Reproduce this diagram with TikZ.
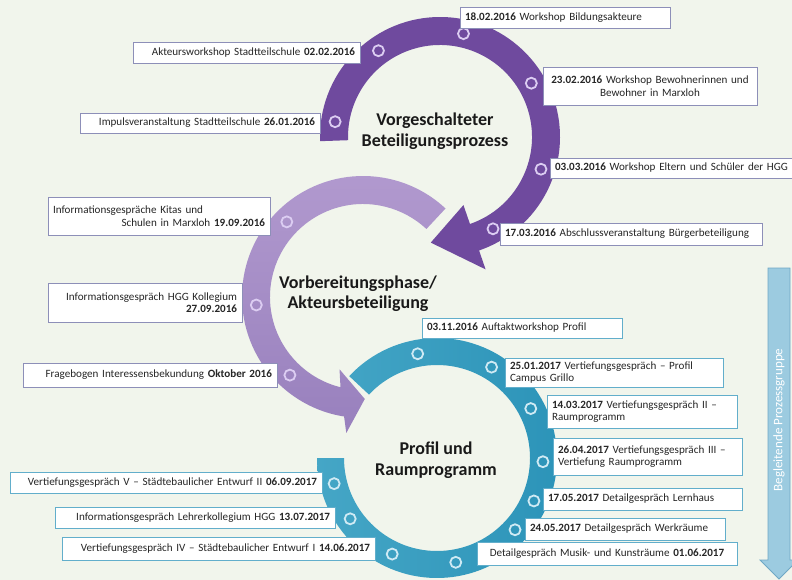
\documentclass[tikz,border=0pt]{standalone}
\usepackage{fontspec}
\setmainfont{Carlito}
\usetikzlibrary{shadows}

\definecolor{bg}{HTML}{F1F5EC}
\definecolor{violetdark}{HTML}{6F4A9E}
\definecolor{violettop}{HTML}{B29ACF}
\definecolor{violetbottom}{HTML}{9880BD}
\definecolor{tealleft}{HTML}{45A6C6}
\definecolor{tealright}{HTML}{2B93B8}
\definecolor{markviolet}{HTML}{DCCDF2}
\definecolor{markteal}{HTML}{CFEAF4}
\definecolor{boxviolet}{HTML}{8D8FB8}
\definecolor{boxteal}{HTML}{62AECB}
\definecolor{textgray}{HTML}{262626}
\definecolor{sidefill}{HTML}{9CCBE0}
\definecolor{sideline}{HTML}{6FA8C5}

\tikzset{
  evbox/.style={draw=#1, fill=white, line width=0.9pt, text=textgray,
    font=\fontsize{11.1}{12.5}\selectfont, inner xsep=5pt, inner ysep=1pt,
    drop shadow={opacity=0.18, shadow xshift=1.2pt, shadow yshift=-1.2pt}},
  phase/.style={font=\bfseries\fontsize{18}{20.5}\selectfont, text=black!90, align=center},
  mk/.style={circle, draw=#1, line width=1.8pt, minimum size=11pt, inner sep=0pt},
}

\begin{document}
\begin{tikzpicture}[x=1pt, y=-1pt]
\useasboundingbox (0,0) rectangle (792,580);
\fill[bg] (0,0) rectangle (792,580);

% third phase: teal ring
\shade[left color=tealleft, right color=tealright]
  ([shift={(437,458)}]-137:120) arc[start angle=-137, end angle=180, radius=120]
  -- ([shift={(437,458)}]180:93) arc[start angle=180, end angle=-137, radius=93] -- cycle;

% second phase: light violet arrow, counter-clockwise
\shade[top color=violettop, bottom color=violetbottom]
  ([shift={(363,297)}]-47:121) arc[start angle=-47, end angle=-261, radius=121]
  -- ([shift={(363,297)}]-263:137) -- ([shift={(363,297)}]-271:102)
  -- ([shift={(363,297)}]-252:76) -- ([shift={(363,297)}]-256:93)
  arc[start angle=-256, end angle=-47, radius=93] -- cycle;

% first phase: dark violet arrow, clockwise
\fill[violetdark]
  ([shift={(440,137)}]178:120) arc[start angle=178, end angle=431, radius=120]
  -- ([shift={(440,137)}]431:140) -- ([shift={(440,137)}]455:106)
  -- ([shift={(440,137)}]431:72) -- ([shift={(440,137)}]431:92)
  arc[start angle=431, end angle=178, radius=92] -- cycle;

% milestone markers on the rings
\foreach \a [count=\i] in {-171.7,-125.5,-77.2,-30.5,17.7,60}
  \node[mk=markviolet] (va\i) at ([shift={(440,137)}]\a:106) {};
\foreach \a [count=\i] in {-135.4,175.7,133.1}
  \node[mk=markviolet] (vb\i) at ([shift={(363,297)}]\a:107) {};
\foreach \a [count=\i] in {-100.5,-59,-27.8,2,23.9,42.6,79.8,115,145,166}
  \node[mk=markteal] (tc\i) at ([shift={(437,458)}]\a:106) {};

% phase titles
\node[phase] (ph1) at (435,131) {Vorgeschalteter\\Beteiligungsprozess};
\node[phase] (ph2) at (358,293.5) {Vorbereitungsphase/\\Akteursbeteiligung};
\node[phase] (ph3) at (436,460) {Profil und\\Raumprogramm};

% events of the first phase
\node[evbox=boxviolet, text width=217pt, minimum height=21pt, align=right] (e1) at (246.5,52.5)
  {Akteursworkshop Stadtteilschule \textbf{02.02.2016}};
\node[evbox=boxviolet, text width=230pt, minimum height=20pt, align=right] (e2) at (200,123)
  {Impulsveranstaltung Stadtteilschule \textbf{26.01.2016}};
\node[evbox=boxviolet, text width=200pt, minimum height=21pt, align=left] (e3) at (565,17.5)
  {\textbf{18.02.2016} Workshop Bildungsakteure};
\node[evbox=boxviolet, text width=204pt, minimum height=38pt, align=center] (e4) at (650,86)
  {\textbf{23.02.2016} Workshop Bewohnerinnen und\\Bewohner in Marxloh};
\node[evbox=boxviolet, text width=240pt, minimum height=20pt, align=left] (e5) at (675,168)
  {\textbf{03.03.2016} Workshop Eltern und Schüler der HGG};
\node[evbox=boxviolet, text width=252pt, minimum height=22pt, align=left] (e6) at (631,234)
  {\textbf{17.03.2016} Abschlussveranstaltung Bürgerbeteiligung};

% events of the second phase
\node[evbox=boxviolet, text width=212pt, minimum height=38pt, align=left] (f1) at (159,216)
  {Informationsgespräche Kitas und\\\mbox{}\hfill Schulen in Marxloh \textbf{19.09.2016}};
\node[evbox=boxviolet, text width=184pt, minimum height=39pt, align=right] (f2) at (145,302.5)
  {Informationsgespräch HGG Kollegium\\\textbf{27.09.2016}};
\node[evbox=boxviolet, text width=244pt, minimum height=24pt, align=right] (f3) at (150,375)
  {Fragebogen Interessensbekundung \textbf{Oktober 2016}};

% events of the third phase
\node[evbox=boxteal, text width=190pt, minimum height=20pt, align=left] (g1) at (522,328)
  {\textbf{03.11.2016} Auftaktworkshop Profil};
\node[evbox=boxteal, text width=208pt, minimum height=29pt, align=left] (g2) at (614,372.5)
  {\textbf{25.01.2017} Vertiefungsgespräch – Profil\\Campus Grillo};
\node[evbox=boxteal, text width=180pt, minimum height=33pt, align=left] (g3) at (642,411.5)
  {\textbf{14.03.2017} Vertiefungsgespräch II –\\Raumprogramm};
\node[evbox=boxteal, text width=179pt, minimum height=37pt, align=left] (g4) at (647.5,456.5)
  {\textbf{26.04.2017} Vertiefungsgespräch III –\\Vertiefung Raumprogramm};
\node[evbox=boxteal, text width=189pt, minimum height=22pt, align=left] (g5) at (642.5,499)
  {\textbf{17.05.2017} Detailgespräch Lernhaus};
\node[evbox=boxteal, text width=190pt, minimum height=22pt, align=left] (g6) at (625,529)
  {\textbf{24.05.2017} Detailgespräch Werkräume};
\node[evbox=boxteal, text width=250pt, minimum height=23pt, align=center] (g7) at (607,553.5)
  {Detailgespräch Musik- und Kunsträume \textbf{01.06.2017}};
\node[evbox=boxteal, text width=302pt, minimum height=21pt, align=right] (g8) at (166,482.5)
  {Vertiefungsgespräch V – Städtebaulicher Entwurf II \textbf{06.09.2017}};
\node[evbox=boxteal, text width=270pt, minimum height=21pt, align=right] (g9) at (195,517.5)
  {Informationsgespräch Lehrerkollegium HGG \textbf{13.07.2017}};
\node[evbox=boxteal, text width=303pt, minimum height=23pt, align=right] (g10) at (218.5,548.5)
  {Vertiefungsgespräch IV – Städtebaulicher Entwurf I \textbf{14.06.2017}};

% accompanying process along the right edge
\filldraw[fill=sidefill, draw=sideline, line width=0.8pt]
  (768,268) -- (790,268) -- (790,560) -- (798,560) -- (779,579) -- (760,560) -- (768,560) -- cycle;
\node[rotate=90, text=white, font=\fontsize{13}{15}\selectfont] (side) at (779,420) {Begleitende Prozessgruppe};
\end{tikzpicture}
\end{document}
